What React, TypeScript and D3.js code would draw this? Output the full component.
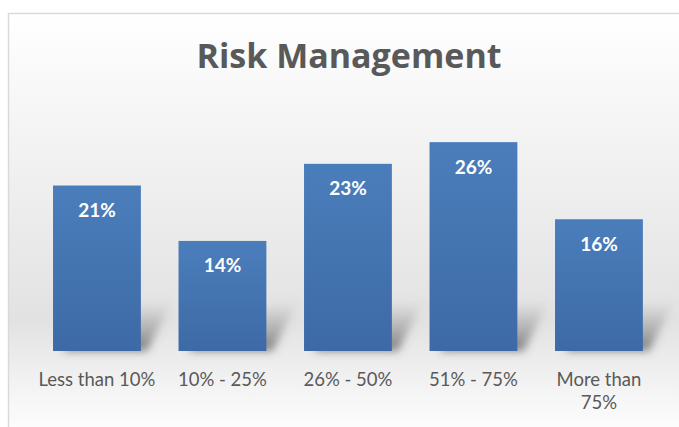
import React from "react";
import * as d3 from "d3";

const categories = ["Less than 10%", "10% - 25%", "26% - 50%", "51% - 75%", "More than 75%"];
const values = [0.206, 0.137, 0.233, 0.26, 0.164];
const title = "Risk Management";

const W = 679;
const H = 427;
const FONT = "Lato, 'Open Sans', sans-serif";
const TITLE_FONT = "'Open Sans', Lato, sans-serif";

export default function App() {
  const x = d3.scaleBand<string>().domain(categories).range([34.2, 661.7]).paddingInner(0.3).paddingOuter(0.15);
  const y = d3.scaleLinear().domain([0, 0.3]).range([351, 110]);
  const fmt = d3.format(".0%");
  const bottom = y(0);

  const labelLines = (c: string) => (c === "More than 75%" ? ["More than", "75%"] : [c]);

  return (
    <svg width={W} height={H} style={{ position: "absolute", left: 0, top: 0 }}>
      <defs>
        <linearGradient id="bg" x1="0" y1="0" x2="0" y2="1">
          <stop offset="0" stopColor="#ffffff" />
          <stop offset="0.35" stopColor="#f1f1f1" />
          <stop offset="0.72" stopColor="#e2e2e2" />
          <stop offset="0.9" stopColor="#f6f6f6" />
          <stop offset="1" stopColor="#ffffff" />
        </linearGradient>
        <linearGradient id="bar" x1="0" y1="0" x2="0" y2="1">
          <stop offset="0" stopColor="#4a7ebb" />
          <stop offset="1" stopColor="#3d6aa6" />
        </linearGradient>
        <linearGradient id="shadowGrad" x1="0" y1="1" x2="0" y2="0">
          <stop offset="0" stopColor="#555" stopOpacity="0.75" />
          <stop offset="1" stopColor="#888" stopOpacity="0" />
        </linearGradient>
        <filter id="blur" x="-20%" y="-50%" width="140%" height="200%">
          <feGaussianBlur stdDeviation="4" />
        </filter>
      </defs>
      <rect x={8.5} y={13.5} width={W} height={H} fill="url(#bg)" stroke="#d9d9d9" strokeWidth={1.5} />
      <text x={349} y={68} textAnchor="middle" fontFamily={TITLE_FONT} fontWeight="bold" fontSize={34} fill="#595959">
        {title}
      </text>
      <g filter="url(#blur)">
        {categories.map((c) => {
          const x0 = x(c)!;
          const x1 = x0 + x.bandwidth();
          const pts = [
            [x0 + 10, bottom],
            [x1 + 6, bottom],
            [x1 + 32, bottom - 50],
            [x0 + 36, bottom - 50],
          ];
          return <polygon key={c} points={pts.map((p) => p.join(",")).join(" ")} fill="url(#shadowGrad)" />;
        })}
      </g>
      {categories.map((c, i) => {
        const x0 = x(c)!;
        const yv = y(values[i]);
        return (
          <g key={c}>
            <rect x={x0} y={yv} width={x.bandwidth()} height={bottom - yv} fill="url(#bar)" />
            <text
              x={x0 + x.bandwidth() / 2}
              y={yv + 31.5}
              textAnchor="middle"
              fontFamily={FONT}
              fontWeight="bold"
              fontSize={19}
              fill="#ffffff"
            >
              {fmt(values[i])}
            </text>
            {labelLines(c).map((l, j) => (
              <text
                key={j}
                x={x0 + x.bandwidth() / 2}
                y={385.5 + j * 23}
                textAnchor="middle"
                fontFamily={FONT}
                fontSize={18.5}
                fill="#595959"
              >
                {l}
              </text>
            ))}
          </g>
        );
      })}
    </svg>
  );
}
